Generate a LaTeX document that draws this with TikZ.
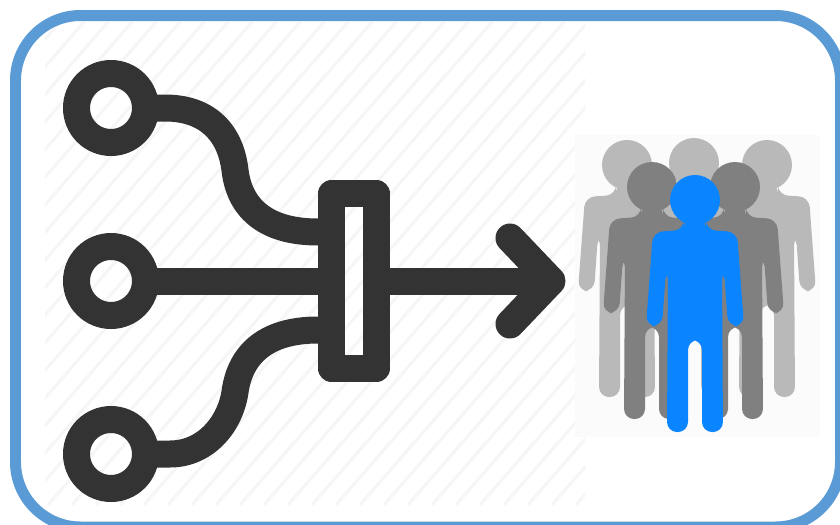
\documentclass[tikz,border=0pt]{standalone}
\usepackage{xcolor}
\usetikzlibrary{arrows.meta,positioning,calc}
\definecolor{frameblue}{HTML}{5B9BD5}
\definecolor{iconblack}{HTML}{333333}
\definecolor{manblue}{HTML}{0A84FF}
\definecolor{manmid}{HTML}{808080}
\definecolor{manlight}{HTML}{B9B9B9}
\definecolor{hatchgray}{HTML}{F6F6F6}
\definecolor{photobg}{HTML}{FBFBFB}
\begin{document}
\begin{tikzpicture}[
    x=0.02cm,y=-0.02cm,
    ring/.style={circle,draw=iconblack,line width=0.54cm,minimum size=1.38cm,inner sep=0pt},
    mixbar/.style={rectangle,draw=iconblack,line width=0.54cm,line join=round,minimum width=0.9cm,minimum height=3.5cm,inner sep=0pt},
    wire/.style={draw=iconblack,line width=0.54cm},
    head/.style={draw=iconblack,line width=0.58cm,line cap=round,line join=round},
    frame/.style={draw=frameblue,line width=0.22cm,rounded corners=1.3cm},
    person/.pic={
        \fill (0,0) circle (25);
        \fill[rounded corners=0.2cm] (-11,18) -- (-11,30) -- (-42,32) -- (-49,126) -- (-33,126) -- (-29,70) -- (-27,70)
            -- (-28,232) -- (-7,232) -- (-7,140) -- (7,140) -- (7,232) -- (28,232) -- (27,70) -- (29,70)
            -- (33,126) -- (49,126) -- (42,32) -- (11,30) -- (11,18) -- cycle;
    }
]
\useasboundingbox (0,0) rectangle (840,525);
\fill[white] (0,0) rectangle (840,525);

% hatching behind the icon
\begin{scope}
\clip (45,22) rectangle (585,505);
\foreach \i in {-432,-408,...,600}
    \draw[hatchgray,line width=0.06cm] (\i,505) -- ++(420,-483);
\end{scope}

\node[ring] (ringa) at (111,108) {};
\node[ring] (ringb) at (111,281) {};
\node[ring] (ringc) at (111,454) {};
\node[mixbar] (bar) at (354,281) {};

\coordinate (ina) at (318,232);
\coordinate (inc) at (318,330);
\coordinate (tip) at (551,281);
\coordinate (headup) at (510,238);
\coordinate (headdown) at (510,324);

\draw[wire] ($(ringa.east)+(-4,0)$) -- (165,108) .. controls (205,108) and (230,130) .. (235,170) .. controls (239,205) and (262,232) .. (ina);
\draw[wire] ($(ringb.east)+(-4,0)$) -- (bar.west);
\draw[wire] ($(ringc.east)+(-4,0)$) -- (170,454) .. controls (205,454) and (230,425) .. (235,392) .. controls (240,355) and (265,330) .. (inc);
\draw[wire] (bar.east) -- (tip);
\draw[head] (headup) -- (tip) -- (headdown);

% the group of people
\fill[photobg] (575,135) rectangle (820,437);
\foreach \x/\y in {627/165,694/163,767/165}
    \pic[manlight] at (\x,\y) {person};
\foreach \x/\y in {652/187,735/187}
    \pic[manmid] at (\x,\y) {person};
\pic[manblue] at (695,200) {person};

\draw[frame] (15.5,15.5) rectangle (840.5,527);
\end{tikzpicture}
\end{document}
